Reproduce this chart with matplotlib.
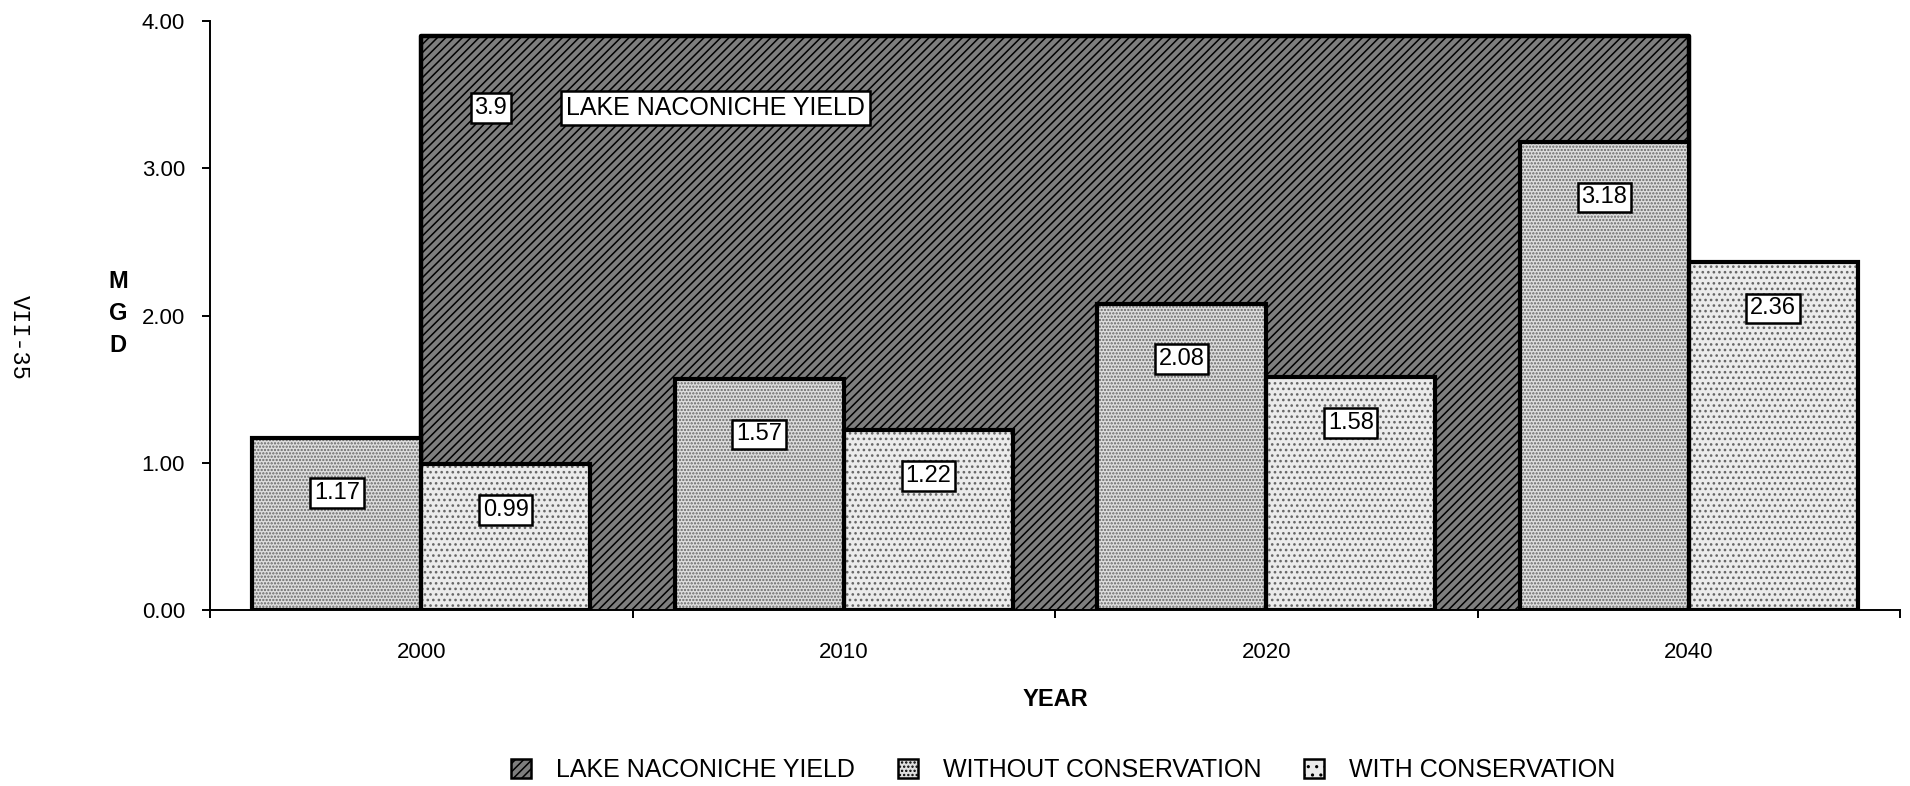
import numpy as np
import matplotlib.pyplot as plt
from matplotlib.patches import Patch

plt.rcParams['font.family'] = ['Liberation Sans', 'DejaVu Sans']
plt.rcParams['hatch.linewidth'] = 1.1

years = ['2000', '2010', '2020', '2040']
lake_yield = [3.9, 3.9, 3.9, 3.9]
without_cons = [1.17, 1.57, 2.08, 3.18]
with_cons = [0.99, 1.22, 1.58, 2.36]
labels = ['LAKE NACONICHE YIELD', 'WITHOUT CONSERVATION', 'WITH CONSERVATION']

x = np.arange(len(years))
w = 0.4

fig = plt.figure(figsize=(19.1, 7.86), dpi=100)
ax = fig.add_axes([210/1910, 1 - 610/786, 1690/1910, 589/786])

# lake yield drawn as an area from the first to the last year, behind the bars
ax.fill_between(x, lake_yield, facecolor='#7e7e7e', edgecolor='black',
                hatch='////', lw=0, zorder=1)
ax.plot(np.r_[x[0], x, x[-1]], np.r_[0, lake_yield, 0], color='black',
        lw=3.2, zorder=1.5)

# bars: pattern fill first, then a thick black outline on top
ax.bar(x - w/2, without_cons, w, facecolor='#dedede', edgecolor='#666666',
       hatch='.....', lw=0, zorder=2)
ax.bar(x - w/2, without_cons, w, facecolor='none', edgecolor='black',
       lw=3, zorder=3)
ax.bar(x + w/2, with_cons, w, facecolor='#ebebeb', edgecolor='#666666',
       hatch='...', lw=0, zorder=2)
ax.bar(x + w/2, with_cons, w, facecolor='none', edgecolor='black',
       lw=3, zorder=3)

box = dict(boxstyle='square,pad=0.16', fc='white', ec='black', lw=1.8)
for xi, v in zip(x - w/2, without_cons):
    ax.annotate(f'{v:.2f}', (xi, v), xytext=(0, -40), textcoords='offset points',
                ha='center', va='center', fontsize=17, bbox=box, zorder=5)
for xi, v in zip(x + w/2, with_cons):
    ax.annotate(f'{v:.2f}', (xi, v), xytext=(0, -33), textcoords='offset points',
                ha='center', va='center', fontsize=17, bbox=box, zorder=5)

ax.annotate(f'{lake_yield[0]:g}', (x[0], lake_yield[0]), xytext=(50, -52),
            textcoords='offset points', ha='center', va='center', fontsize=17,
            bbox=box, zorder=5)
ax.annotate(labels[0], (x[0], lake_yield[0]), xytext=(212, -52),
            textcoords='offset points', ha='center', va='center', fontsize=18,
            bbox=dict(boxstyle='square,pad=0.2', fc='white', ec='black', lw=1.8),
            zorder=5)

ax.set_xlim(-0.5, 3.5)
ax.set_ylim(0, 4)
ax.set_xticks(np.arange(-0.5, 4, 1))
ax.set_xticklabels([])
ax.set_xticks(x, minor=True)
ax.set_xticklabels(years, minor=True, fontsize=16)
ax.tick_params(axis='x', which='minor', length=0, pad=23)
ax.tick_params(axis='x', which='major', length=6, width=1.4)
ax.set_yticks(np.arange(0, 5, 1))
ax.yaxis.set_major_formatter('{x:.2f}')
ax.tick_params(axis='y', length=6, width=1.4, pad=12, labelsize=16)

for s in ['top', 'right']:
    ax.spines[s].set_visible(False)
for s in ['left', 'bottom']:
    ax.spines[s].set_linewidth(1.4)

fig.text(1055/1910, 1 - 700/786, 'YEAR', ha='center', va='center',
         fontsize=17, fontweight='bold')
fig.text(118/1910, 1 - 314/786, 'M\nG\nD', ha='center', va='center',
         fontsize=17, fontweight='bold', linespacing=1.5)
fig.text(19/1910, 1 - 337/786, 'VII-35', rotation=270, ha='center', va='center',
         fontsize=17, family='Liberation Mono')

handles = [Patch(facecolor='#7e7e7e', edgecolor='black', hatch='////', lw=1.8),
           Patch(facecolor='#dedede', edgecolor='black', hatch='....', lw=1.8),
           Patch(facecolor='#ebebeb', edgecolor='black', hatch='..', lw=1.8)]
fig.legend(handles, labels, loc='center', bbox_to_anchor=(1063/1910, 1 - 770/786),
           ncol=3, frameon=False, fontsize=18, handlelength=0.8, handleheight=0.8,
           handletextpad=1.0, columnspacing=1.7)

fig.savefig('out.png', dpi=100)
